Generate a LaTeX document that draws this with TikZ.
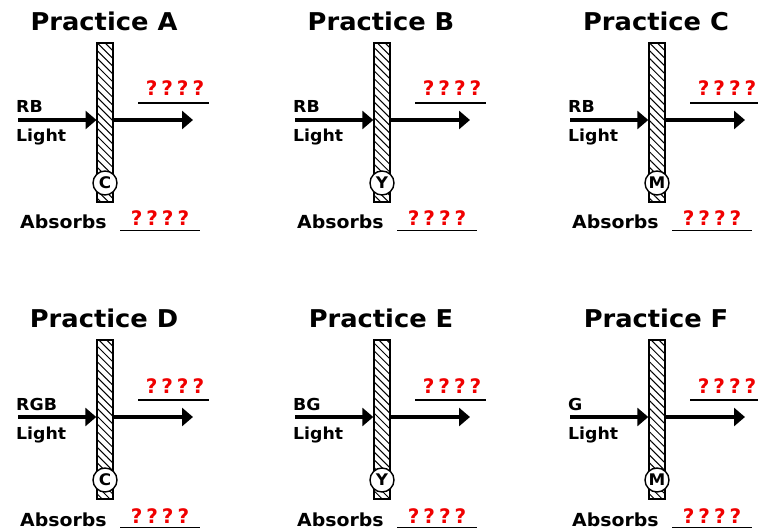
\documentclass[tikz,border=0pt]{standalone}
\usepackage{fontspec}
\setmainfont{DejaVu Sans}
\newfontfamily\pix[FakeStretch=1.05]{DejaVu Sans}
\newfontfamily\qfont[LetterSpace=20]{DejaVu Sans}
\usetikzlibrary{arrows.meta,patterns.meta}
\definecolor{qred}{RGB}{240,0,0}
\tikzset{
  ptitle/.style={font=\pix\bfseries\fontsize{24.5}{26}\selectfont, inner sep=0pt, anchor=base},
  lbl/.style={font=\pix\bfseries\fontsize{16.5}{18}\selectfont, inner sep=0pt, anchor=base west},
  abs/.style={font=\pix\bfseries\fontsize{18}{20}\selectfont, inner sep=0pt, text depth=0pt, anchor=base west},
  qmark/.style={font=\qfont\bfseries\fontsize{20}{22}\selectfont, text=qred, inner sep=0pt, text depth=0pt, anchor=base},
  filterbar/.style={draw, line width=1.4pt, minimum width=16pt, minimum height=159pt, inner sep=0pt,
    pattern={Lines[angle=-45,distance=5.5pt,line width=1pt]}},
  filt/.style={circle, draw, fill=white, line width=1.4pt, minimum size=24pt, inner sep=0pt,
    font=\pix\bfseries\fontsize{16}{16}\selectfont},
  arr/.style={line width=4pt, -{Triangle[length=11pt,width=18pt]}},
  uline/.style={line width=1.5pt}
}
\newcommand\practice[5]{%
\begin{scope}[shift={(#2,#3)}]
  \node[ptitle] (#1-t) at (104,31) {Practice #1};
  \node[filterbar] (#1-bar) at (105,122.5) {};
  \node[filt] (#1-f) at (105,183) {#5};
  \coordinate (#1-s) at (18,120);
  \coordinate (#1-e) at (193,120);
  \draw[arr] (#1-s) -- (#1-s -| #1-bar.west);
  \draw[arr] (#1-e -| #1-bar.east) -- (#1-e);
  \node[lbl] (#1-c) at (16,113) {#4};
  \node[lbl] (#1-l) at (16,142) {Light};
  \node[qmark] (#1-q1) at (175,96) {????};
  \coordinate (#1-u1a) at (138,103);
  \coordinate (#1-u1b) at (209,103);
  \draw[uline] (#1-u1a) -- (#1-u1b);
  \node[abs] (#1-ab) at (20,229) {Absorbs};
  \node[qmark] (#1-q2) at (160,226) {????};
  \coordinate (#1-u2a) at (120,230.5);
  \coordinate (#1-u2b) at (200,230.5);
  \draw[uline] (#1-u2a) -- (#1-u2b);
\end{scope}}
\begin{document}
\begin{tikzpicture}[x=1pt,y=-1pt]
\useasboundingbox[fill=white] (0,0) rectangle (758,529);
\practice{A}{0}{0}{RB}{C}
\practice{B}{277}{0}{RB}{Y}
\practice{C}{552}{0}{RB}{M}
\practice{D}{0}{297}{RGB}{C}
\practice{E}{277}{297}{BG}{Y}
\practice{F}{552}{297}{G}{M}
\end{tikzpicture}
\end{document}
